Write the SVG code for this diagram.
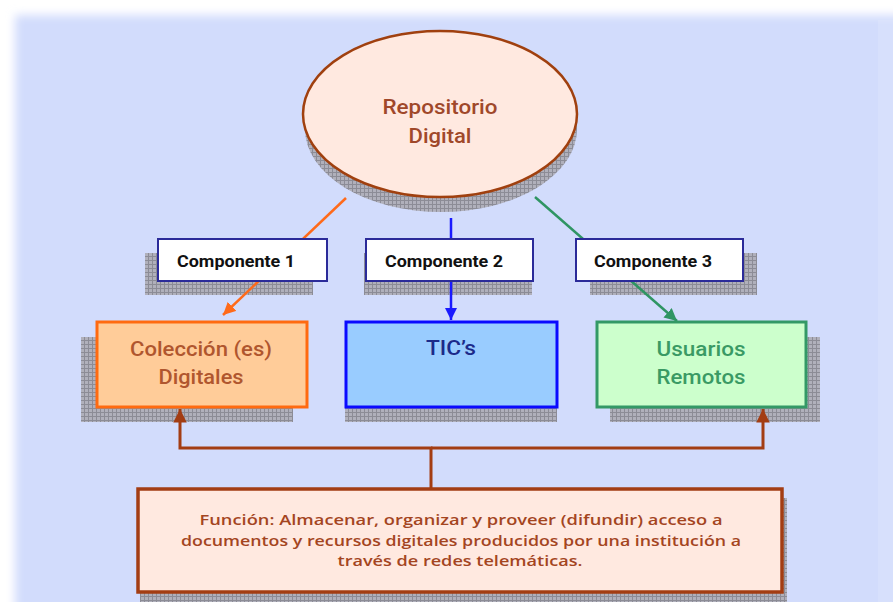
<svg xmlns="http://www.w3.org/2000/svg" width="893" height="602" viewBox="0 0 893 602">
<defs>
<filter id="bgblur" x="-10%" y="-10%" width="120%" height="120%"><feGaussianBlur stdDeviation="5"/></filter>
<pattern id="hatch" width="4" height="4" patternUnits="userSpaceOnUse">
<rect width="4" height="4" fill="#b0b0bb"/>
<path d="M0 0.5H4M0.5 0V4" stroke="#8c8c96" stroke-width="1"/>
</pattern>
<marker id="ah-orange" viewBox="0 0 10 10" refX="10" refY="5" markerWidth="5" markerHeight="5" orient="auto" markerUnits="strokeWidth"><path d="M0 0L10 5L0 10z" fill="#ff6a1a"/></marker>
<marker id="ah-blue" viewBox="0 0 10 10" refX="10" refY="5" markerWidth="5" markerHeight="5" orient="auto" markerUnits="strokeWidth"><path d="M0 0L10 5L0 10z" fill="#1a1aff"/></marker>
<marker id="ah-green" viewBox="0 0 10 10" refX="10" refY="5" markerWidth="5" markerHeight="5" orient="auto" markerUnits="strokeWidth"><path d="M0 0L10 5L0 10z" fill="#2f9563"/></marker>
<marker id="ah-brown" viewBox="0 0 10 10" refX="10" refY="5" markerWidth="4.5" markerHeight="4.5" orient="auto" markerUnits="strokeWidth"><path d="M0 0L10 5L0 10z" fill="#a33d13"/></marker>
</defs>
<style>
.shadow{fill:url(#hatch)}
.lbl{fill:#ffffff;stroke:#2b2b99;stroke-width:2}
.lbltxt{font-family:Roboto,"Liberation Sans",sans-serif;font-weight:bold;font-size:17px;fill:#111111;text-anchor:middle}
.big{font-family:Roboto,"Liberation Sans",sans-serif;font-weight:500;font-size:21px;text-anchor:middle}
.fn{font-family:"Open Sans","DejaVu Sans",sans-serif;font-weight:600;font-size:14px;fill:#a4451f;text-anchor:middle}
.conn{fill:none;stroke-width:2.5}
</style>
<rect width="893" height="602" fill="#ffffff"/>
<rect x="15" y="15" width="900" height="620" fill="#d2dcfc" filter="url(#bgblur)"/>
<rect x="878" y="20" width="15" height="582" fill="#ffffff" opacity="0.12"/>

<g id="shadows">
<ellipse class="shadow" cx="441" cy="129" rx="136" ry="83"/>
<rect class="shadow" x="145" y="253" width="168" height="42"/>
<rect class="shadow" x="364" y="253" width="168" height="42"/>
<rect class="shadow" x="590" y="253" width="167" height="42"/>
<rect class="shadow" x="81" y="337" width="212" height="85"/>
<rect class="shadow" x="345" y="337" width="212" height="85"/>
<rect class="shadow" x="610" y="337" width="210" height="85"/>
<rect class="shadow" x="140" y="498" width="647" height="110"/>
</g>

<g id="connectors">
<line class="conn" x1="346" y1="198" x2="223" y2="315" stroke="#ff6a1a" marker-end="url(#ah-orange)"/>
<line class="conn" x1="451" y1="218" x2="451" y2="320" stroke="#1a1aff" marker-end="url(#ah-blue)"/>
<line class="conn" x1="535" y1="197" x2="677" y2="321" stroke="#2f9563" marker-end="url(#ah-green)"/>
<path d="M431 488V448H180V409" fill="none" stroke="#a33d13" stroke-width="3" marker-end="url(#ah-brown)"/>
<path d="M431 448H763V409" fill="none" stroke="#a33d13" stroke-width="3" marker-end="url(#ah-brown)"/>
</g>

<g id="repositorio">
<ellipse cx="440" cy="114" rx="137" ry="83" fill="#ffe9e0" stroke="#a0400f" stroke-width="2.5"/>
<text class="big" x="440" y="114" fill="#a0482a" textLength="115" lengthAdjust="spacingAndGlyphs">Repositorio</text>
<text class="big" x="440" y="143" fill="#a0482a" textLength="63" lengthAdjust="spacingAndGlyphs">Digital</text>
</g>

<g id="componente1">
<rect class="lbl" x="158" y="239" width="169" height="42"/>
<text class="lbltxt" x="236" y="267" textLength="118" lengthAdjust="spacingAndGlyphs">Componente 1</text>
</g>
<g id="componente2">
<rect class="lbl" x="366" y="239" width="167" height="42"/>
<text class="lbltxt" x="444" y="267" textLength="118" lengthAdjust="spacingAndGlyphs">Componente 2</text>
</g>
<g id="componente3">
<rect class="lbl" x="576" y="239" width="167" height="42"/>
<text class="lbltxt" x="653" y="267" textLength="118" lengthAdjust="spacingAndGlyphs">Componente 3</text>
</g>

<g id="colecciones">
<rect x="97" y="322" width="210" height="85" fill="#ffcc99" stroke="#ff6a10" stroke-width="3"/>
<text class="big" x="201" y="356" fill="#b0562e" textLength="142" lengthAdjust="spacingAndGlyphs">Colección (es)</text>
<text class="big" x="201" y="384" fill="#b0562e" textLength="85" lengthAdjust="spacingAndGlyphs">Digitales</text>
</g>

<g id="tics">
<rect x="346" y="322" width="211" height="85" fill="#99ccff" stroke="#0a0aff" stroke-width="3"/>
<text class="big" x="451" y="355" fill="#1c2a8a" textLength="50" lengthAdjust="spacingAndGlyphs">TIC’s</text>
</g>

<g id="usuarios">
<rect x="597" y="322" width="209" height="85" fill="#ccffcc" stroke="#339966" stroke-width="3"/>
<text class="big" x="701" y="356" fill="#3a9a64" textLength="89" lengthAdjust="spacingAndGlyphs">Usuarios</text>
<text class="big" x="701" y="384" fill="#3a9a64" textLength="89" lengthAdjust="spacingAndGlyphs">Remotos</text>
</g>

<g id="funcion">
<rect x="138" y="489" width="644" height="103" fill="#ffe9e0" stroke="#a33d13" stroke-width="3.5"/>
<text class="fn" x="461" y="525" textLength="523" lengthAdjust="spacingAndGlyphs">Función: Almacenar, organizar y proveer (difundir) acceso a</text>
<text class="fn" x="461" y="546" textLength="560" lengthAdjust="spacingAndGlyphs">documentos y recursos digitales producidos por una institución a</text>
<text class="fn" x="460" y="566" textLength="245" lengthAdjust="spacingAndGlyphs">través de redes telemáticas.</text>
</g>
</svg>
